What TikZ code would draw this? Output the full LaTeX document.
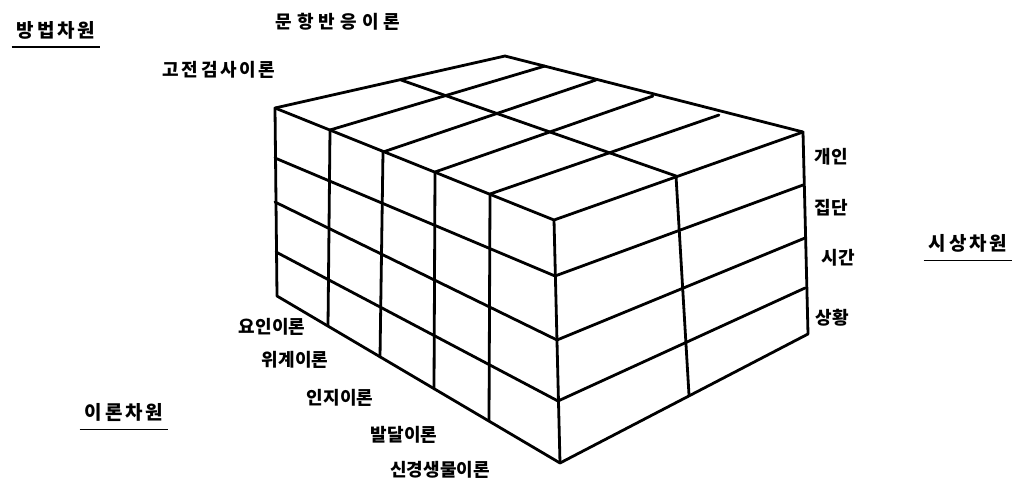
\documentclass[tikz,border=0pt]{standalone}
\usepackage{fontspec}
\newfontfamily\kr{Noto Sans CJK KR}
\newfontfamily\krspaced[LetterSpace=15]{Noto Sans CJK KR}
\newfontfamily\krwide[LetterSpace=28]{Noto Sans CJK KR}
\usetikzlibrary{positioning}

\begin{document}
\begin{tikzpicture}[x=1pt, y=-1pt,
  cube/.style={line width=2.8pt, line join=round, line cap=round},
  item/.style={font=\kr\bfseries\fontsize{18}{18}\selectfont, inner sep=0pt},
  dimlabel/.style={font=\krspaced\bfseries\fontsize{19}{19}\selectfont, inner xsep=5pt, inner ysep=8pt},
  uline/.style={line width=1.3pt}]
\useasboundingbox (0,0) rectangle (1025,488);

% top face
\coordinate (A) at (275,108);
\coordinate (B) at (505,56);
\coordinate (R) at (803,132);
\coordinate (F) at (554,220);
\coordinate (a1) at (330,130);
\coordinate (a2) at (383,152);
\coordinate (a3) at (435,172);
\coordinate (a4) at (490,194);
\coordinate (b1) at (545,66);
\coordinate (b2) at (596,80);
\coordinate (b3) at (653,96);
\coordinate (b4) at (719,115);
\coordinate (mAB) at (401,80);
\coordinate (mFR) at (676,176);

% left face
\coordinate (l1) at (275,158);
\coordinate (l2) at (275,202);
\coordinate (l3) at (276,252);
\coordinate (Lb) at (277,296);
\coordinate (f1) at (555,276);
\coordinate (f2) at (557,340);
\coordinate (f3) at (558,401);
\coordinate (Fb) at (560,463);
\coordinate (c1) at (328,326);
\coordinate (c2) at (380,357);
\coordinate (c3) at (434,389);
\coordinate (c4) at (489,421);

% right face
\coordinate (r1) at (803,185);
\coordinate (r2) at (805,238);
\coordinate (r3) at (805,288);
\coordinate (Rb) at (808,334);
\coordinate (mFb) at (689,395);

\draw[cube] (A) -- (B) -- (R) -- (Rb) -- (Fb) -- (Lb) -- cycle;
\draw[cube] (A) -- (F) -- (R) (F) -- (Fb);
\draw[cube]
	(a1) edge (b1)
	(a2) edge (b2)
	(a3) edge (b3)
	(a4) edge (b4)
	(mAB) edge (mFR)
;
\draw[cube]
	(l1) edge (f1)
	(l2) edge (f2)
	(l3) edge (f3)
	(a1) edge (c1)
	(a2) edge (c2)
	(a3) edge (c3)
	(a4) edge (c4)
;
\draw[cube]
	(f1) edge (r1)
	(f2) edge (r2)
	(f3) edge (r3)
	(mFR) edge (mFb)
;

% method dimension
\node[dimlabel] (method) at (56,30) {방법차원};
\draw[uline] (method.south west) -- (method.south east);
\node[item, font=\krwide\bfseries\fontsize{18}{18}\selectfont] (irt) at (338,22) {문항반응이론};
\node[item, font=\krspaced\bfseries\fontsize{18}{18}\selectfont] (ctt) at (219,70) {고전검사이론};

% phenomenon dimension
\node[item] (indiv) at (831,157) {개인};
\node[item] (group) at (831,208) {집단};
\node[item] (time) at (838,258) {시간};
\node[item] (situ) at (832,318) {상황};
\node[dimlabel] (phen) at (968,243) {시상차원};
\draw[uline] (phen.south west) -- (phen.south east);

% theory dimension
\node[item] (factor) at (272,327) {요인이론};
\node[item] (hier) at (295,360) {위계이론};
\node[item] (cogn) at (340,398) {인지이론};
\node[item] (devel) at (404,435) {발달이론};
\node[item] (neuro) at (440,470) {신경생물이론};
\node[dimlabel] (theory) at (124,412) {이론차원};
\draw[uline] (theory.south west) -- (theory.south east);
\end{tikzpicture}
\end{document}
